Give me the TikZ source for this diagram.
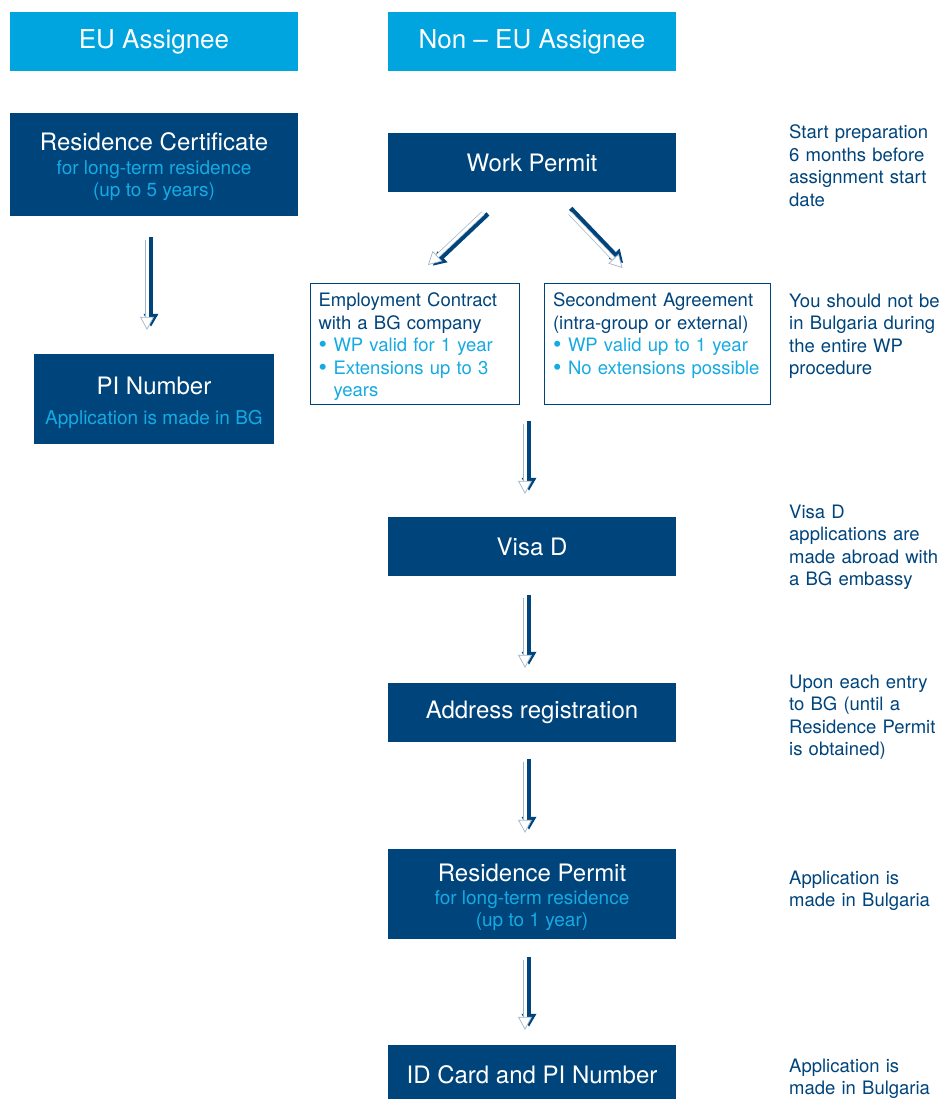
\documentclass[tikz,border=0pt]{standalone}
\usepackage{fontspec}
\setmainfont{TeX Gyre Heros}
\usetikzlibrary{arrows.meta,positioning}

\definecolor{navy}{RGB}{0,68,124}
\definecolor{skyhead}{RGB}{0,164,222}
\definecolor{skytext}{RGB}{22,170,226}
\definecolor{arrowedge}{RGB}{160,180,200}

\newcommand{\subline}[1]{{\color{skytext}\fontsize{19}{22}\selectfont #1}}
\newcommand{\bul}{\makebox[15pt][l]{\color{skytext}\raisebox{-1pt}{\fontsize{24}{22}\selectfont\textbullet}}}

\begin{document}
\begin{tikzpicture}[x=1pt, y=-1pt,
  head/.style={fill=skyhead, text=white, minimum width=288pt, minimum height=59pt, inner sep=0pt, font=\fontsize{26}{30}\selectfont},
  stage/.style={fill=navy, text=white, minimum width=288pt, minimum height=59pt, inner sep=0pt, align=center, font=\fontsize{24}{28}\selectfont},
  tallstage/.style={stage, align=flush center, text width=#1, text height=20pt},
  option/.style={draw=navy, line width=1pt, text=navy, anchor=north west, align=left, inner xsep=8pt, inner ysep=8pt, text height=15pt, text depth=90pt, font=\fontsize{18.5}{22.5}\selectfont},
  note/.style={text=navy, anchor=base west, align=left, inner sep=0pt, text width=160pt, font=\fontsize{18.5}{22.5}\selectfont},
  shadowarrow/.style={draw=navy, line width=4.5pt, -{Triangle[length=13pt,width=14pt]}, transform canvas={shift={#1}}},
  frontarrow/.style={draw=arrowedge, line width=0.7pt, double=white, double distance=3pt, -{Triangle[fill=white,length=13pt,width=14pt]}}]
  \useasboundingbox (0,0) rectangle (943,1099);

  % headers
  \node[head] (euhead) at (154,42) {EU Assignee};
  \node[head] (nonhead) at (532,42) {Non -- EU Assignee};

  % EU side
  \node[tallstage=288pt, minimum height=103pt, text depth=47pt] (rescert) at (154,164.5) {Residence Certificate\\[-4pt]\subline{for long-term residence}\\[-6pt]\subline{(up to 5 years)}};
  \node[tallstage=240pt, minimum width=240pt, minimum height=90pt, text depth=30pt] (pinum) at (154,399) {PI Number\\[2pt]\subline{Application is made in BG}};

  % non-EU side
  \node[stage] (workp) at (532,162.5) {Work Permit};
  \node[option, text width=193pt] (emp) at (310,283) {Employment Contract\\with a BG company\\\bul\textcolor{skytext}{WP valid for 1 year}\\\bul\textcolor{skytext}{Extensions up to 3}\\\hspace*{15pt}\textcolor{skytext}{years}};
  \node[option, text width=209pt, inner xsep=8.5pt] (sec) at (544,283) {Secondment Agreement\\(intra-group or external)\\\bul\textcolor{skytext}{WP valid up to 1 year}\\\bul\textcolor{skytext}{No extensions possible}};
  \node[stage] (visa) at (532,546.5) {Visa D};
  \node[stage] (addr) at (532,712.5) {Address registration};
  \node[tallstage=288pt, minimum height=90pt, text depth=46pt] (resperm) at (532,894) {Residence Permit\\[-5pt]\subline{for long-term residence}\\[-6pt]\subline{(up to 1 year)}};
  \node[stage, minimum height=60pt] (idcard) at (532,1075) {ID Card and PI Number};

  % notes
  \node[note] (note1) at (789,139) {Start preparation\\6 months before\\assignment start\\date};
  \node[note] (note2) at (789,307) {You should not be\\in Bulgaria during\\the entire WP\\procedure};
  \node[note] (note3) at (789,518) {Visa D\\applications are\\made abroad with\\a BG embassy};
  \node[note] (note4) at (789,688) {Upon each entry\\to BG (until a\\Residence Permit\\is obtained)};
  \node[note] (note5) at (789,884) {Application is\\made in Bulgaria};
  \node[note] (note6) at (789,1072) {Application is\\made in Bulgaria};

  % arrows
  \coordinate (split) at (workp.south |- emp.south);
  \foreach \from/\to/\sa/\sb in {rescert/pinum/24/24, split/visa/19/23, visa/addr/22/15, addr/resperm/20/16, resperm/idcard/21/15} {
    \draw[shadowarrow={(4,-3)}, shorten <=\sa pt, shorten >=\sb pt] ([xshift=-7pt]\from.south) -- ([xshift=-7pt]\to.north);
    \draw[frontarrow, shorten <=\sa pt, shorten >=\sb pt] ([xshift=-7pt]\from.south) -- ([xshift=-7pt]\to.north);
  }
  \draw[shadowarrow={(4.9,0.7)}] ([shift={(-49,21)}]workp.south) -- ([shift={(13,-18)}]emp.north);
  \draw[frontarrow] ([shift={(-49,21)}]workp.south) -- ([shift={(13,-18)}]emp.north);
  \draw[shadowarrow={(0.7,-4.9)}] ([shift={(38,21)}]workp.south) -- ([shift={(-35,-15)}]sec.north);
  \draw[frontarrow] ([shift={(38,21)}]workp.south) -- ([shift={(-35,-15)}]sec.north);
\end{tikzpicture}
\end{document}
